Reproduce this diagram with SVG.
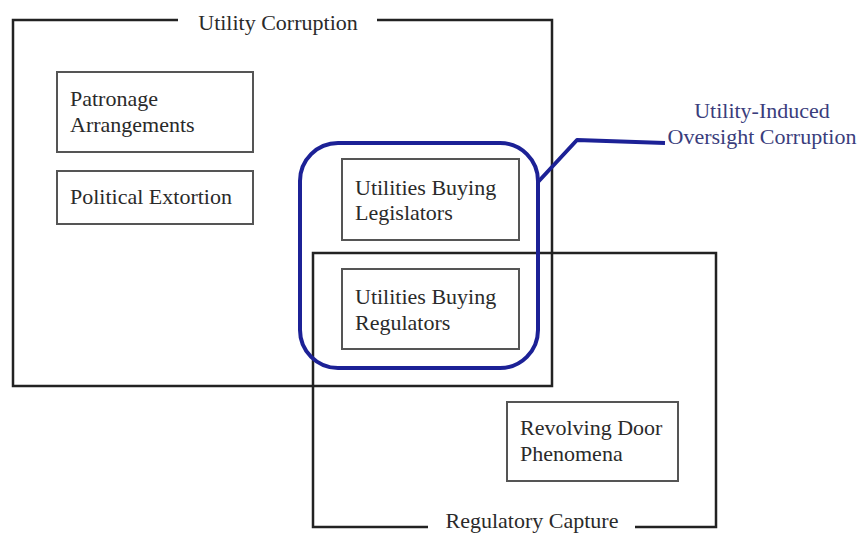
<svg xmlns="http://www.w3.org/2000/svg" width="860" height="534" viewBox="0 0 860 534">
<style>
.frame{fill:none;stroke:#222;stroke-width:2.5}
.box{fill:none;stroke:#555;stroke-width:2}
.t{font-family:"Liberation Serif","Times New Roman",serif;font-size:22px;fill:#2a2a2a}
.blue{fill:none;stroke:#1c2196;stroke-width:4;stroke-linejoin:round}
.bt{font-family:"Liberation Serif","Times New Roman",serif;font-size:22px;fill:#3a3d7c}
</style>
<rect width="860" height="534" fill="#fff"/>
<g id="utility-corruption">
<path class="frame" d="M178,20 H13 V386 H552 V20 H377"/>
<text class="t" x="278" y="30" text-anchor="middle">Utility Corruption</text>
</g>
<g id="regulatory-capture">
<path class="frame" d="M428,527 H313 V253 H716 V527 H635"/>
<text class="t" x="532" y="528" text-anchor="middle">Regulatory Capture</text>
</g>
<g id="patronage">
<rect class="box" x="57" y="72" width="196" height="80"/>
<text class="t" x="70" y="106">Patronage</text>
<text class="t" x="70" y="132">Arrangements</text>
</g>
<g id="extortion">
<rect class="box" x="57" y="171" width="196" height="53"/>
<text class="t" x="70" y="204">Political Extortion</text>
</g>
<g id="legislators">
<rect class="box" x="342" y="159" width="177" height="81"/>
<text class="t" x="355" y="195">Utilities Buying</text>
<text class="t" x="355" y="220">Legislators</text>
</g>
<g id="regulators">
<rect class="box" x="342" y="269" width="177" height="80"/>
<text class="t" x="355" y="304">Utilities Buying</text>
<text class="t" x="355" y="330">Regulators</text>
</g>
<g id="revolving-door">
<rect class="box" x="507" y="402" width="171" height="79"/>
<text class="t" x="520" y="435">Revolving Door</text>
<text class="t" x="520" y="461">Phenomena</text>
</g>
<g id="oversight-corruption">
<rect class="blue" x="300" y="143" width="238" height="225" rx="38" ry="38"/>
<text class="bt" x="762" y="118" text-anchor="middle">Utility-Induced</text>
<text class="bt" x="762" y="144" text-anchor="middle">Oversight Corruption</text>
</g>
<g id="connectors">
<polyline class="blue" points="538,182 577,140 665,143"/>
</g>
</svg>
